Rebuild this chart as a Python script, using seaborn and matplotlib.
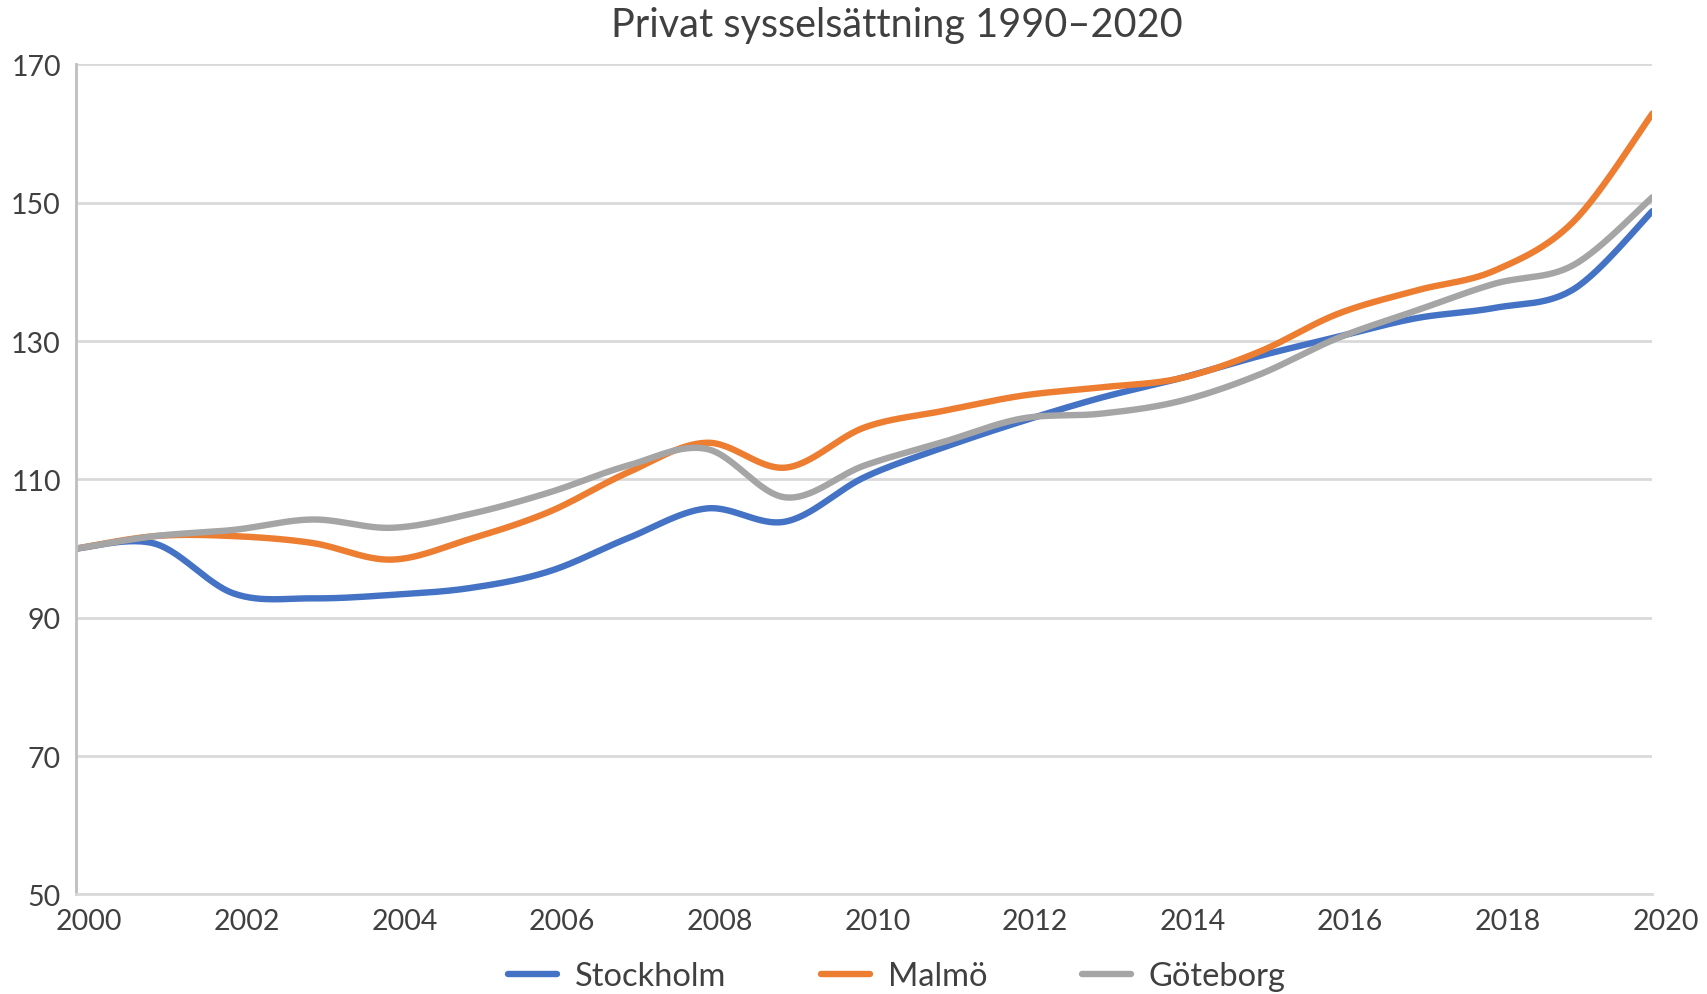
import numpy as np
import pandas as pd
import matplotlib
matplotlib.use("Agg")
import matplotlib.pyplot as plt
import matplotlib.transforms as mtransforms
import seaborn as sns

years = list(range(2000, 2021))
stockholm = [100, 100.7, 93.5, 92.8, 93.3, 94.3, 96.7, 101.5, 105.8, 103.9, 110.3,
             114.6, 118.4, 121.8, 124.6, 127.8, 130.6, 133.3, 134.8, 137.5, 148.8]
malmo = [100, 101.8, 101.8, 100.8, 98.4, 101.4, 105.3, 111.0, 115.3, 111.7, 117.5,
         119.9, 122.1, 123.3, 124.6, 128.4, 133.9, 137.3, 140.2, 147.3, 162.9]
goteborg = [100, 101.8, 102.7, 104.2, 103.0, 105.0, 108.1, 112.0, 114.4, 107.4, 112.0,
            115.4, 118.8, 119.5, 121.3, 125.1, 130.4, 134.4, 138.3, 141.0, 150.8]
series_names = ["Stockholm", "Malmö", "Göteborg"]
colors = ["#4472C4", "#ED7D31", "#A5A5A5"]
y_ticks = [50, 70, 90, 110, 130, 150, 170]
x_ticks = list(range(2000, 2021, 2))
title = "Privat sysselsättning 1990–2020"


def smooth(xs, ys, n=30):
    """Excel-style smoothed line: cubic Bezier segments with Catmull-Rom tangents."""
    xs = np.asarray(xs, float)
    ys = np.asarray(ys, float)
    px = np.concatenate([[xs[0]], xs, [xs[-1]]])
    py = np.concatenate([[ys[0]], ys, [ys[-1]]])
    outx, outy = [], []
    t = np.linspace(0, 1, n, endpoint=False)
    for i in range(1, len(px) - 2):
        p0 = np.array([px[i], py[i]])
        p3 = np.array([px[i + 1], py[i + 1]])
        c1 = p0 + (np.array([px[i + 1], py[i + 1]]) - np.array([px[i - 1], py[i - 1]])) / 6
        c2 = p3 - (np.array([px[i + 2], py[i + 2]]) - np.array([px[i], py[i]])) / 6
        b = ((1 - t) ** 3)[:, None] * p0 + (3 * (1 - t) ** 2 * t)[:, None] * c1 \
            + (3 * (1 - t) * t ** 2)[:, None] * c2 + (t ** 3)[:, None] * p3
        outx.extend(b[:, 0])
        outy.extend(b[:, 1])
    outx.append(xs[-1])
    outy.append(ys[-1])
    return outx, outy


frames = []
for name, vals in zip(series_names, [stockholm, malmo, goteborg]):
    sx, sy = smooth(years, vals)
    frames.append(pd.DataFrame({"År": sx, "Index": sy, "Stad": name}))
df = pd.concat(frames, ignore_index=True)

sns.set_theme(style="white")
plt.rcParams["font.family"] = ["Lato", "DejaVu Sans"]

fig = plt.figure(figsize=(17.08, 9.95), dpi=100)
ax = fig.add_axes([0.0446, 0.1001, 0.9229, 0.8342])

sns.lineplot(data=df, x="År", y="Index", hue="Stad", hue_order=series_names,
             palette=colors, linewidth=4.6, sort=False, estimator=None,
             ax=ax, legend=True)

ax.set_xlim(2000, 2020)
ax.set_ylim(50, 170)
ax.set_xticks(x_ticks)
ax.set_yticks(y_ticks)
ax.set_xlabel("")
ax.set_ylabel("")
ax.grid(axis="y", color="#D9D9D9", linewidth=2)
ax.set_axisbelow(True)
for s in ["top", "right"]:
    ax.spines[s].set_visible(False)
ax.spines["left"].set_color("#BFBFBF")
ax.spines["left"].set_linewidth(2)
ax.spines["bottom"].set_color("#D9D9D9")
ax.spines["bottom"].set_linewidth(2)
ax.tick_params(axis="both", length=0, labelsize=20.5, labelcolor="#404040")
ax.tick_params(axis="y", pad=11)
ax.tick_params(axis="x", pad=10)
offset = mtransforms.ScaledTranslation(13 / 100, 0, fig.dpi_scale_trans)
for lbl in ax.get_xticklabels():
    lbl.set_transform(lbl.get_transform() + offset)

fig.text(0.525, 0.974, title, ha="center", va="center", fontsize=28.5, color="#404040")

handles, labels = ax.get_legend_handles_labels()
ax.legend(handles, labels, loc="center", bbox_to_anchor=(0.525, 0.018),
          bbox_transform=fig.transFigure, ncol=3, frameon=False, fontsize=23.5,
          handlelength=1.5, handletextpad=0.55, columnspacing=2.9,
          labelcolor="#404040")

fig.savefig("out.png", dpi=100, facecolor="white")
